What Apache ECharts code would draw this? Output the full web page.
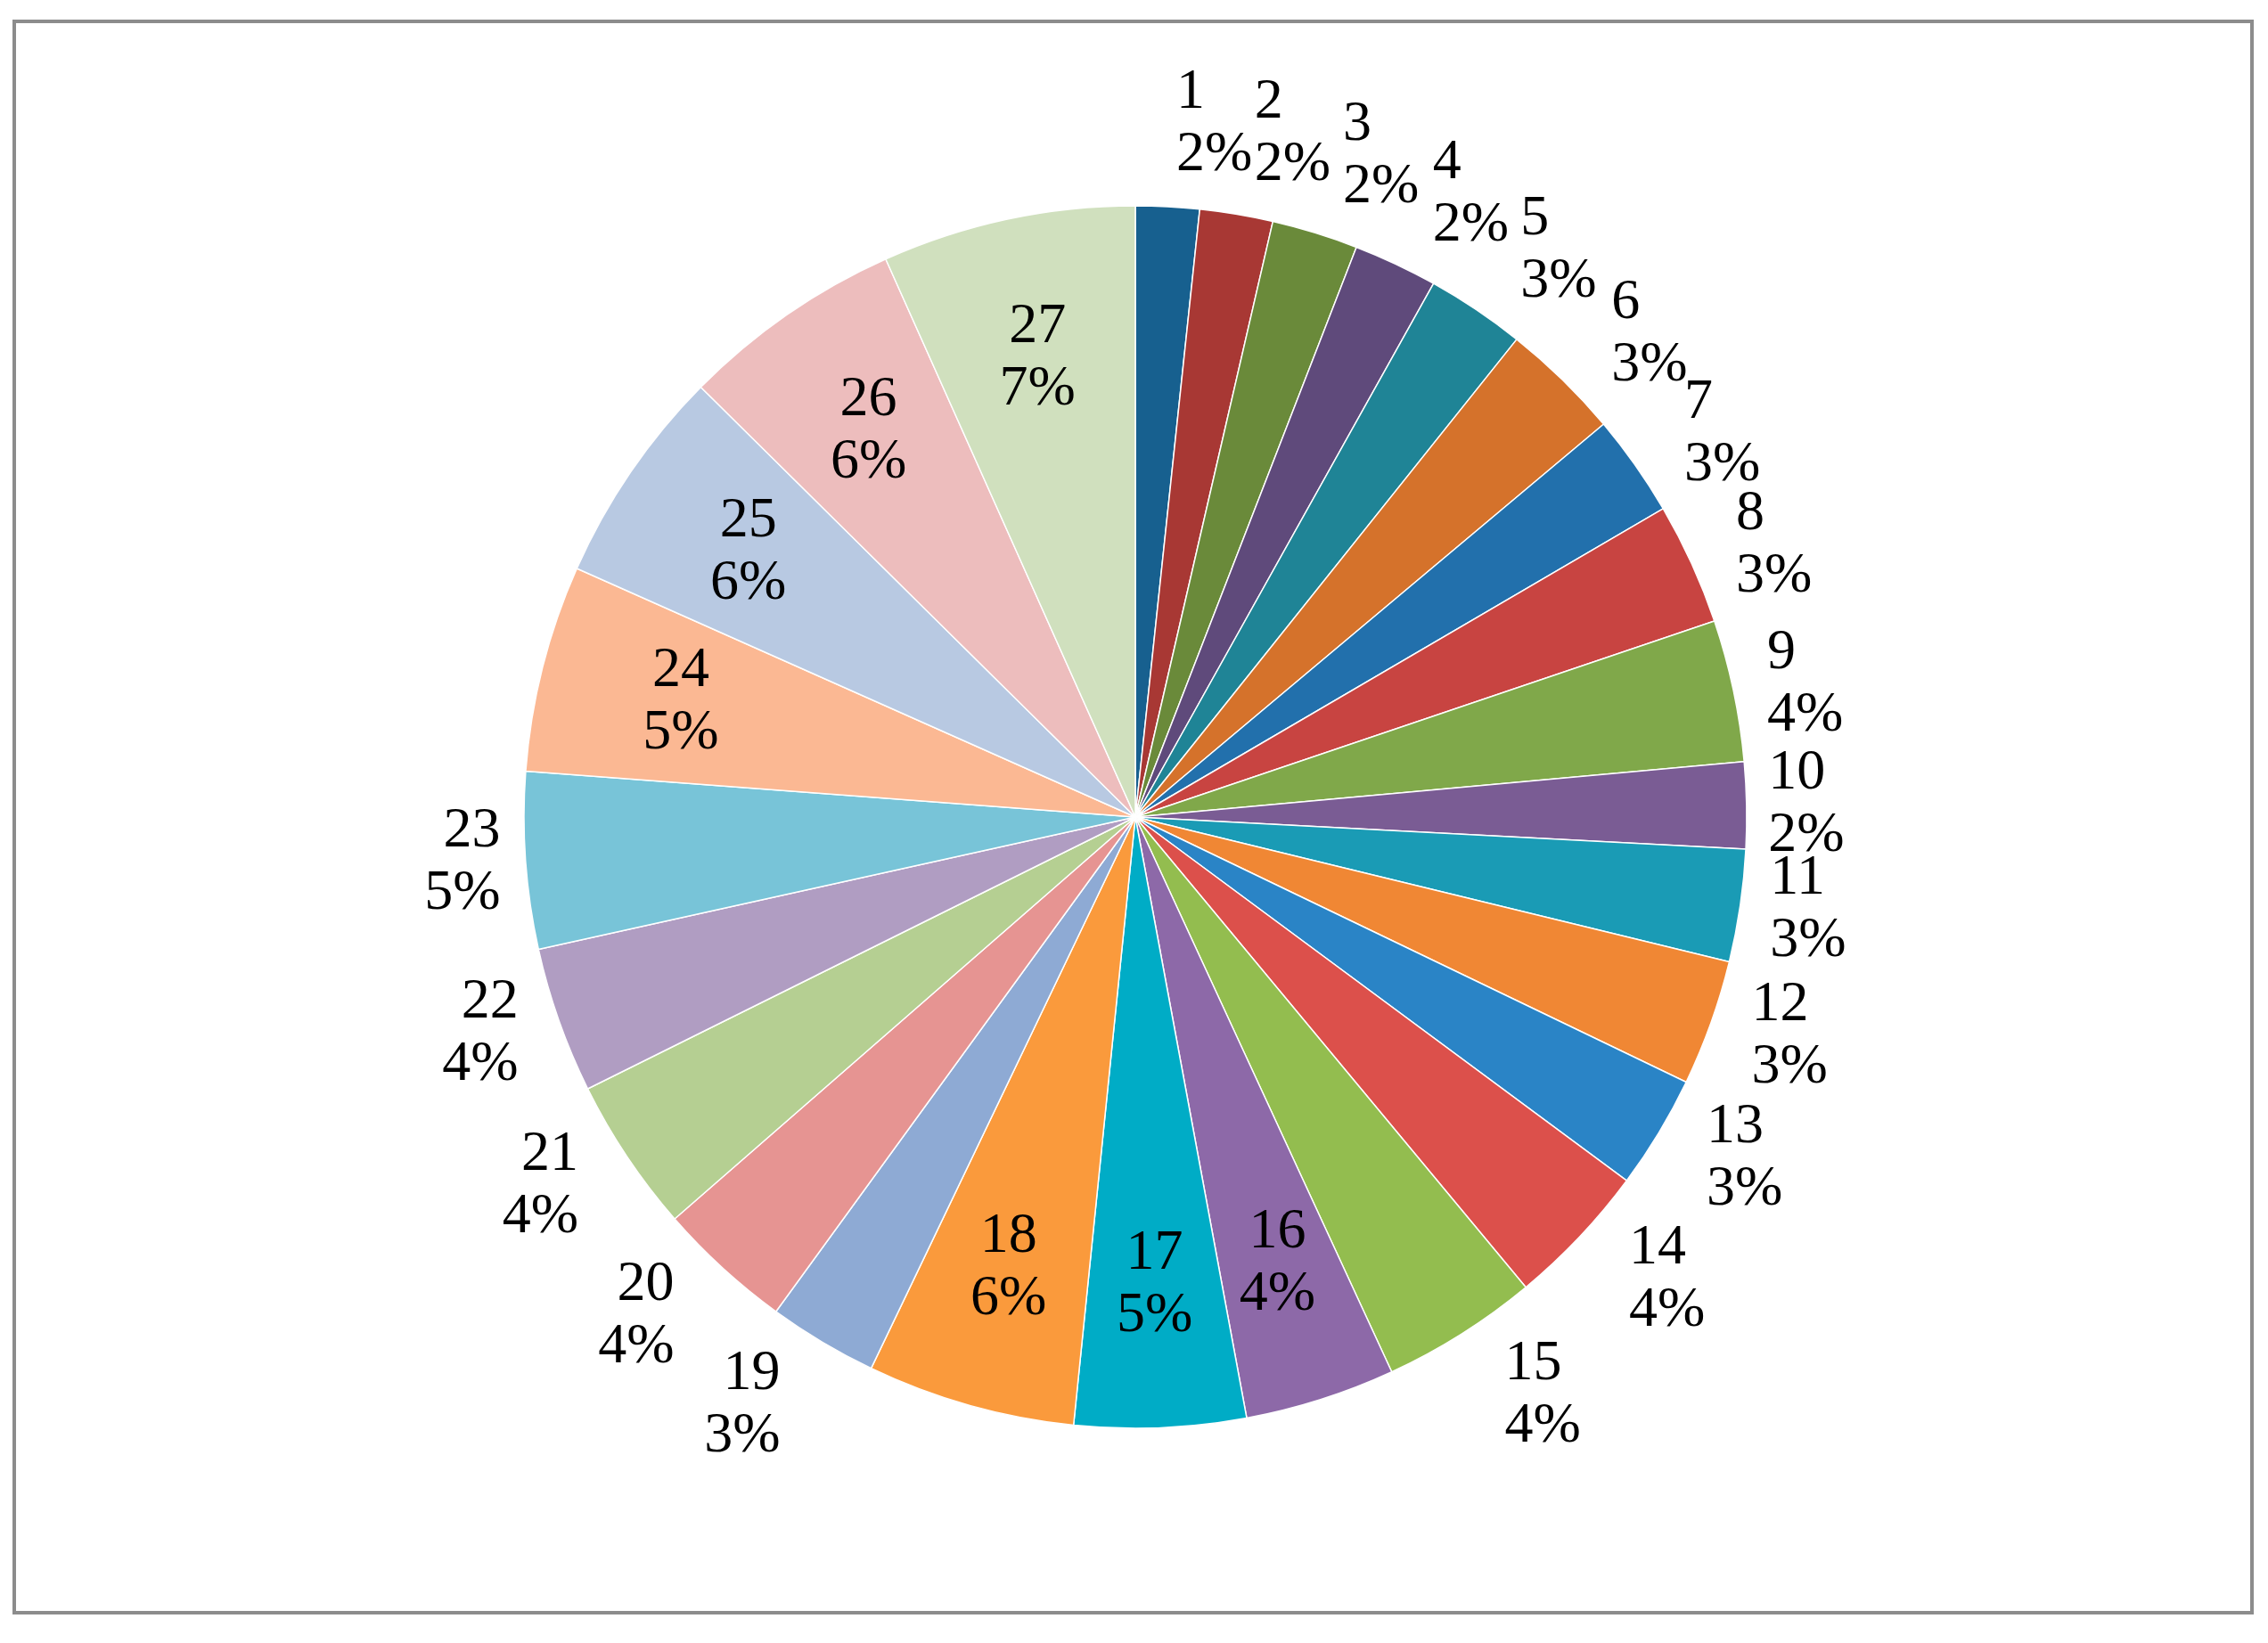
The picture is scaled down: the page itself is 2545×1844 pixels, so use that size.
<!DOCTYPE html>
<html><head><meta charset="utf-8">
<script src="https://cdn.jsdelivr.net/npm/echarts@6/dist/echarts.min.js"></script>
<style>html,body{margin:0;background:#fff}#c{width:2545px;height:1844px}</style>
</head><body><div id="c"></div>
<script>
const categories = ['1','2','3','4','5','6','7','8','9','10','11','12','13','14','15','16','17','18','19','20','21','22','23','24','25','26','27'];
const values = [6.05,6.95,8.2,8.0,9.4,11.4,9.7,11.6,13.5,8.2,10.7,12.0,10.8,13.8,14.9,14.3,16.3,19.8,10.4,12.9,14.7,13.9,16.8,19.7,20.7,21.2,24.1];
const percentLabels = ['2%','2%','2%','2%','3%','3%','3%','3%','4%','2%','3%','3%','3%','4%','4%','4%','5%','6%','3%','4%','4%','4%','5%','5%','6%','6%','7%'];
const colors = ['#17608f','#a83834','#6a8a3a','#5f4a7b','#1f8496','#d5722b','#2270ac','#c84441','#80a84a','#7a5c94','#1a9bb5','#f08734','#2a84c6','#dc504b','#93bd4f','#8d69a8','#00acc6','#fa9a3c','#8eaad4','#e69492','#b5cf92','#b09dc2','#78c4d8','#fbb893','#b8c9e2','#edbdbd','#d0e0be'];
const insideSet = ['16','17','18','24','25','26','27'];

const total = values.reduce((a,b)=>a+b,0);
let cum = 0;
const mids = values.map(v=>{const m=(cum+v/2)/total*2*Math.PI; cum+=v; return m;});

const fmt = p=>p.name+'\n'+percentLabels[p.dataIndex];
const font = {fontFamily:'Liberation Serif', fontSize:64, color:'#000', lineHeight:70};

const outer = categories.map((c,i)=>({
  name:c, value:values[i],
  itemStyle:{color:colors[i]},
  label: insideSet.includes(c) ? {show:false} : {show:true, position:'outside'},
  labelLine:{show:false, length: 18 + 75*Math.abs(Math.cos(mids[i])), length2:0}
}));
const overlay = categories.map((c,i)=>({
  name:c, value:values[i],
  itemStyle:{color:'rgba(0,0,0,0)'},
  label: insideSet.includes(c) ? {show:true, position:'inside'} : {show:false}
}));

const chart = echarts.init(document.getElementById('c'));
chart.setOption({
  animation:false,
  graphic:[{type:'rect',shape:{x:16,y:24,width:2511,height:1786},style:{fill:'none',stroke:'#8c8c8c',lineWidth:4}}],
  series:[{
    type:'pie', center:[1274,917], radius:[0,686], startAngle:90, clockwise:true,
    avoidLabelOverlap:false,
    itemStyle:{borderColor:'#fff',borderWidth:1.5},
    label:Object.assign({formatter:fmt}, font),
    labelLayout:{hideOverlap:false},
    data:outer
  },{
    type:'pie', center:[1274,917], radius:[360,686], startAngle:90, clockwise:true,
    silent:true, avoidLabelOverlap:false,
    itemStyle:{borderWidth:0},
    label:Object.assign({formatter:fmt}, font),
    labelLine:{show:false},
    labelLayout:{hideOverlap:false},
    data:overlay
  }]
});
</script></body></html>
